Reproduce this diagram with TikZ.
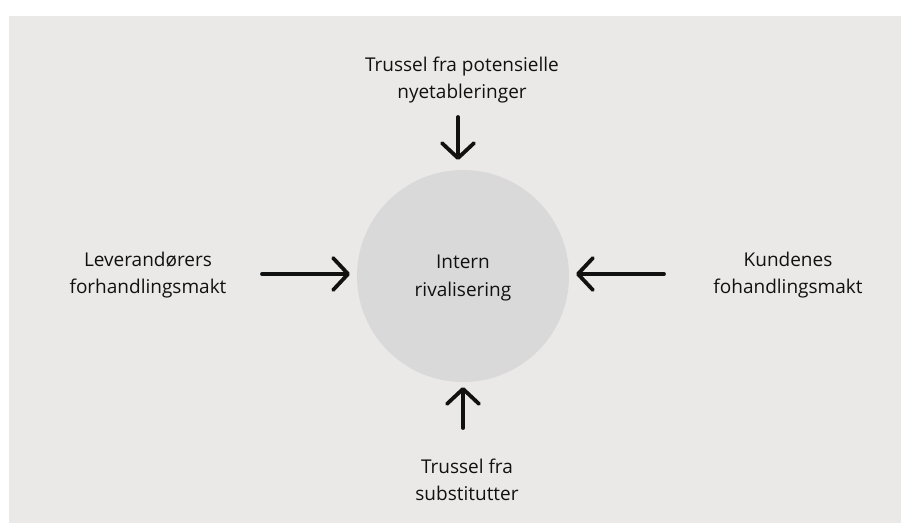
\documentclass[tikz,border=0pt]{standalone}
\usepackage{fontspec}
\setmainfont{Open Sans}
\usetikzlibrary{arrows.meta}
\definecolor{bg}{HTML}{EBE9E7}
\definecolor{circ}{HTML}{D9D9D9}
\definecolor{ink}{HTML}{111111}
\begin{document}
\begin{tikzpicture}[x=1pt,y=-1pt,
  lbl/.style={align=center,font=\fontsize{19}{27.5}\selectfont,text=ink,inner sep=0pt},
  force/.style={line width=3.8pt,draw=ink,line cap=round,
    -{Straight Barb[length=15pt,width=32pt,line width=3.8pt,round]}}]
\useasboundingbox (0,0) rectangle (901,523);
\fill[white] (0,0) rectangle (901,523);
\fill[bg] (9,16) rectangle (901,523);
\node[circle,fill=circ,minimum size=212pt,inner sep=0pt] (c) at (463,276) {};
\node[lbl] (ct) at (463,278) {Intern\\rivalisering};
\node[lbl] (top) at (462,80) {Trussel fra potensielle\\nyetableringer};
\node[lbl] (bot) at (467,480) {Trussel fra\\substitutter};
\node[lbl] (lft) at (148,275) {Leverandørers\\forhandlingsmakt};
\node[lbl] (rgt) at (788,275) {Kundenes\\fohandlingsmakt};
\coordinate (ta) at (458,117); \coordinate (tb) at (458,160);
\coordinate (ba) at (463,428); \coordinate (bb) at (463,387);
\coordinate (la) at (262,274); \coordinate (lb) at (350,274);
\coordinate (ra) at (664,274); \coordinate (rb) at (576,274);
\draw[force] (ta) -- (tb);
\draw[force] (ba) -- (bb);
\draw[force] (la) -- (lb);
\draw[force] (ra) -- (rb);
\end{tikzpicture}
\end{document}
